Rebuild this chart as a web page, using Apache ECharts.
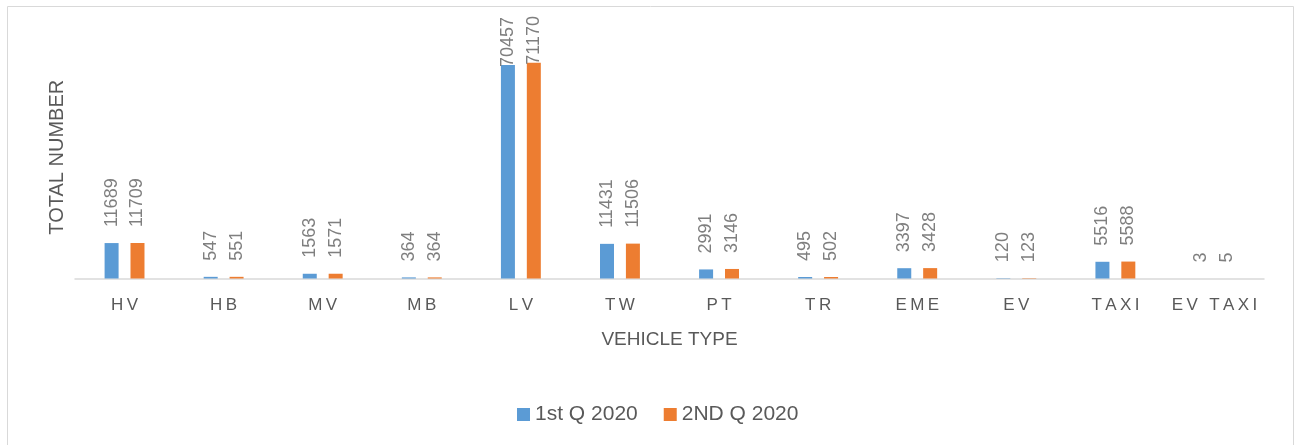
<!DOCTYPE html>
<html>
<head>
<meta charset="utf-8">
<script src="https://cdn.jsdelivr.net/npm/echarts@6/dist/echarts.min.js"></script>
<style>
  html, body { margin: 0; padding: 0; background: #fff; }
  #chart { width: 1297px; height: 445px; }
</style>
</head>
<body>
<div id="chart"></div>
<script>
const vehicleTypes = ['HV', 'HB', 'MV', 'MB', 'LV', 'TW', 'PT', 'TR', 'EME', 'EV', 'TAXI', 'EV TAXI'];
const q1Values = [11689, 547, 1563, 364, 70457, 11431, 2991, 495, 3397, 120, 5516, 3];
const q2Values = [11709, 551, 1571, 364, 71170, 11506, 3146, 502, 3428, 123, 5588, 5];
const seriesNames = ['1st Q 2020', '2ND Q 2020'];

const chart = echarts.init(document.getElementById('chart'));

// Excel pulls the labels of the tallest bars down so they stay in the chart
const withLabels = (values) => values.map(v => v > 60000 ? { value: v, label: { distance: -2 } } : v);

const labelStyle = {
    show: true,
    position: 'top',
    rotate: 90,
    align: 'left',
    verticalAlign: 'middle',
    distance: 16,
    color: '#7f7f7f',
    fontSize: 18,
    fontFamily: 'Liberation Sans'
};

chart.setOption({
    animation: false,
    textStyle: { fontFamily: 'Liberation Sans' },
    graphic: [{
        type: 'rect',
        shape: { x: 7.5, y: 6.5, width: 1286, height: 460 },
        style: { fill: 'none', stroke: '#d9d9d9', lineWidth: 1 },
        silent: true
    }],
    grid: { left: 75, right: 33, top: 36, bottom: 166.5 },
    legend: {
        left: 512,
        top: 399,
        itemWidth: 13,
        itemHeight: 13,
        itemGap: 26,
        icon: 'rect',
        textStyle: { color: '#595959', fontSize: 21 },
        data: seriesNames
    },
    xAxis: {
        type: 'category',
        data: vehicleTypes,
        name: 'VEHICLE TYPE',
        nameLocation: 'middle',
        nameGap: 52,
        nameTextStyle: { color: '#595959', fontSize: 19 },
        axisLine: { lineStyle: { color: '#d9d9d9', width: 1.5 } },
        axisTick: { show: false },
        axisLabel: {
            color: '#595959',
            fontSize: 17,
            margin: 18,
            interval: 0,
            formatter: (v) => v.split('').join('\u2009')
        }
    },
    yAxis: {
        type: 'value',
        min: 0,
        max: 80000,
        name: 'TOTAL NUMBER',
        nameLocation: 'middle',
        nameGap: 8,
        nameTextStyle: { color: '#595959', fontSize: 20 },
        axisLine: { show: false },
        axisTick: { show: false },
        axisLabel: { show: false },
        splitLine: { show: false }
    },
    series: [
        {
            name: seriesNames[0],
            type: 'bar',
            barWidth: 14,
            barGap: '85%',
            data: withLabels(q1Values),
            itemStyle: { color: '#5b9bd5' },
            label: labelStyle
        },
        {
            name: seriesNames[1],
            type: 'bar',
            barWidth: 14,
            barGap: '85%',
            data: withLabels(q2Values),
            itemStyle: { color: '#ed7d31' },
            label: labelStyle
        }
    ]
});
</script>
</body>
</html>
